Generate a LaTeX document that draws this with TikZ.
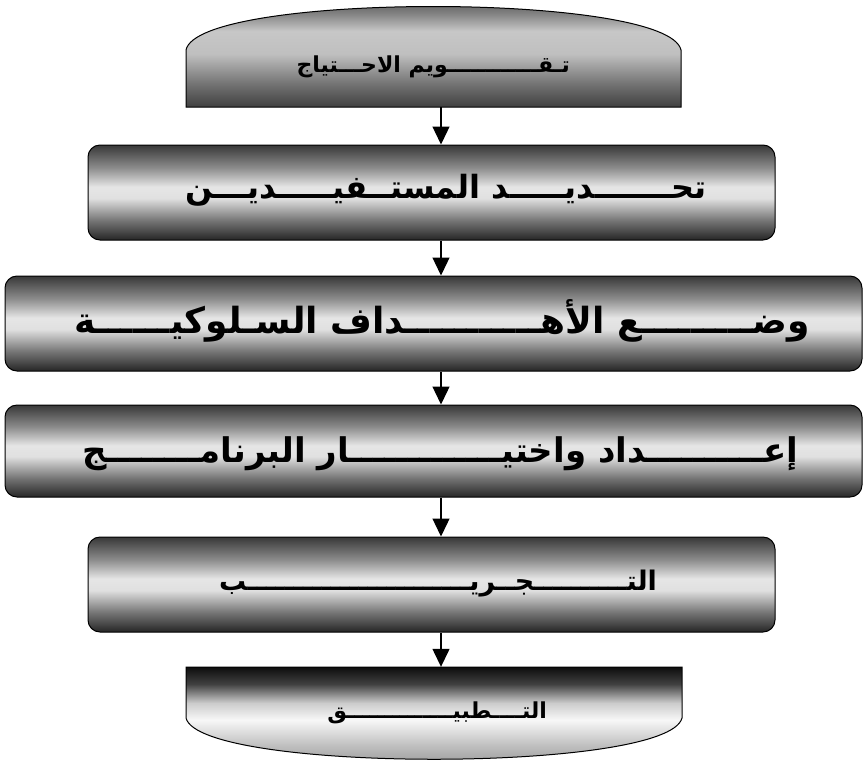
\documentclass[tikz,border=0pt]{standalone}
\usepackage{fontspec}
\usetikzlibrary{arrows.meta}
\TeXXeTstate=1
\newfontfamily\arabicfont[Script=Arabic]{DejaVu Sans}
% vertical shadings: path maps to 25bp (bottom) .. 75bp (top)
\pgfdeclareverticalshading{boxshade}{100bp}{color(0bp)=(black!85); color(25bp)=(black!85); color(35bp)=(black!55); color(47bp)=(black!12); color(53bp)=(black!10); color(63bp)=(black!45); color(75bp)=(black!78); color(100bp)=(black!78)}
\pgfdeclareverticalshading{topshade}{100bp}{color(0bp)=(black!75); color(25bp)=(black!75); color(35bp)=(black!55); color(48bp)=(black!25); color(58bp)=(black!22); color(66bp)=(black!50); color(75bp)=(black!72); color(100bp)=(black!72)}
\pgfdeclareverticalshading{botshade}{100bp}{color(0bp)=(black!45); color(25bp)=(black!45); color(38bp)=(black!25); color(50bp)=(black!3); color(58bp)=(black!20); color(67bp)=(black!75); color(75bp)=(black!95); color(100bp)=(black!95)}
\tikzset{
  stepbox/.style={rectangle, rounded corners=12pt, draw=black, line width=1pt, shading=boxshade, inner sep=0pt},
  holder/.style={rectangle, inner sep=0pt},
  lbl/.style={text=black, inner sep=0pt, anchor=base east},
  arr/.style={line width=1.3pt, -{Triangle[width=17pt,length=18pt]}}
}
\newcommand{\arsize}[1]{\arabicfont\bfseries\fontsize{#1}{#1}\selectfont}
% kashida of a given length (in pt), built from tatweel characters
\newlength\twlen
\newlength\twA \newlength\twB \newlength\twC \newlength\twD \newlength\twE
\def\twrep#1{\ifnum#1>0 ـ\expandafter\twrep\expandafter{\number\numexpr#1-1\relax}\fi}
\def\K#1{\ifdim\twlen>0pt \twrep{\number\numexpr\dimexpr#1pt\relax/\twlen\relax}\fi}
\begin{document}
\settowidth\twA{\arsize{22}ـ}%
\settowidth\twB{\arsize{32}ـ}%
\settowidth\twC{\arsize{36}ـ}%
\settowidth\twD{\arsize{34}ـ}%
\settowidth\twE{\arsize{27}ـ}%
\begin{tikzpicture}[x=1pt,y=-1pt]
\useasboundingbox (0,0) rectangle (864,761);
\coordinate (ax) at (441,0);
% 1: top arched shape
\node[holder, minimum width=495pt, minimum height=102pt] (n1) at (433.5,56) {};
\path[draw=black, line width=1pt, shading=topshade]
  (186,107) -- (186,50) .. controls (198,-8) and (668,-8) .. (681,50) -- (681,107) -- cycle;
\node[lbl, font=\arsize{22}] (t1) at (570,72) {\twlen=\twA\beginR ت\K{6}ق\K{88}ويم الاح\K{25}تياج\endR};
% 2
\node[stepbox, minimum width=687pt, minimum height=95pt] (n2) at (431.5,192.5) {};
\node[lbl, font=\arsize{32}] (t2) at (707,198) {\twlen=\twB\beginR تح\K{75}دي\K{60}د المست\K{27}في\K{58}دي\K{31}ن\endR};
% 3
\node[stepbox, minimum width=857pt, minimum height=95pt] (n3) at (433.5,323.5) {};
\node[lbl, font=\arsize{36}] (t3) at (810,333) {\twlen=\twC\beginR وض\K{105}ع الأه\K{135}داف الس\K{18}لوكي\K{70}ة\endR};
% 4
\node[stepbox, minimum width=857pt, minimum height=92pt] (n4) at (433.5,451) {};
\node[lbl, font=\arsize{34}] (t4) at (798,462) {\twlen=\twD\beginR إع\K{115}داد واختي\K{150}ار البرنام\K{90}ج\endR};
% 5
\node[stepbox, minimum width=687pt, minimum height=95pt] (n5) at (431.5,584.5) {};
\node[lbl, font=\arsize{27}] (t5) at (657,590) {\twlen=\twE\beginR الت\K{90}ج\K{20}ري\K{222}ب\endR};
% 6: bottom arched shape
\node[holder, minimum width=496pt, minimum height=92pt] (n6) at (434,713) {};
\path[draw=black, line width=1pt, shading=botshade]
  (186,667) -- (682,667) -- (682,718) .. controls (668,773) and (200,773) .. (186,718) -- cycle;
\node[lbl, font=\arsize{22}] (t6) at (547,718) {\twlen=\twA\beginR الت\K{27}طبي\K{108}ق\endR};
% connectors
\draw[arr] (n1.south -| ax) -- (n2.north -| ax);
\draw[arr] (n2.south -| ax) -- (n3.north -| ax);
\draw[arr] (n3.south -| ax) -- (n4.north -| ax);
\draw[arr] (n4.south -| ax) -- (n5.north -| ax);
\draw[arr] (n5.south -| ax) -- (n6.north -| ax);
\end{tikzpicture}
\end{document}
